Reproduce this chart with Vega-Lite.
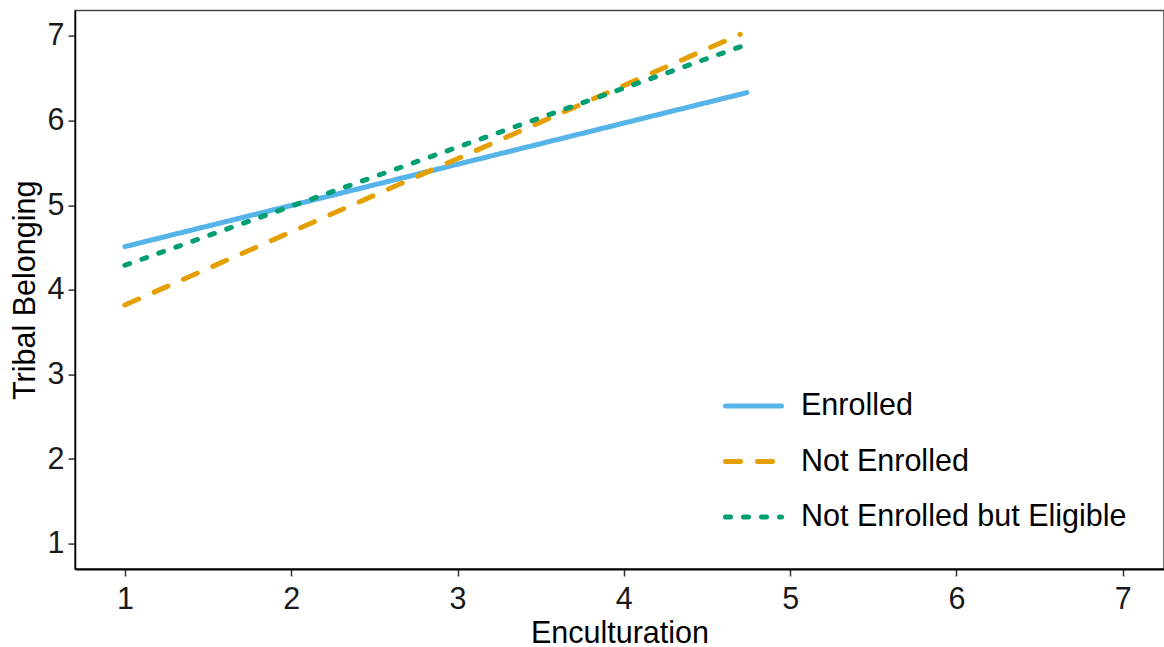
{
  "$schema": "https://vega.github.io/schema/vega-lite/v6.json",
  "width": 1089,
  "height": 558.4,
  "autosize": {"type": "none"},
  "padding": {"left": 75, "top": 10.6, "right": 0, "bottom": 78},
  "background": "white",
  "config": {
    "font": "Liberation Sans",
    "view": {"stroke": "#444444", "strokeWidth": 1.5},
    "axis": {
      "grid": false,
      "domainColor": "black",
      "domainWidth": 2,
      "tickColor": "#333333",
      "tickWidth": 1.5,
      "tickSize": 7,
      "labelFontSize": 30.5,
      "labelColor": "#1a1a1a",
      "labelFont": "Liberation Sans",
      "titleFont": "Liberation Sans",
      "titleFontSize": 30.5,
      "titleFontWeight": "normal",
      "titleColor": "black"
    },
    "legend": {
      "labelFont": "Liberation Sans",
      "labelFontSize": 30.5,
      "labelColor": "black",
      "labelLimit": 500
    }
  },
  "data": {
    "values": [
      {"group": "Enrolled", "enc": 1, "belong": 4.51},
      {"group": "Enrolled", "enc": 4.74, "belong": 6.33},
      {"group": "Not Enrolled", "enc": 1, "belong": 3.82},
      {"group": "Not Enrolled", "enc": 4.7, "belong": 7.02},
      {"group": "Not Enrolled but Eligible", "enc": 1, "belong": 4.29},
      {"group": "Not Enrolled but Eligible", "enc": 4.74, "belong": 6.9}
    ]
  },
  "mark": {"type": "line", "strokeWidth": 5, "strokeCap": "round", "clip": true},
  "encoding": {
    "x": {
      "field": "enc",
      "type": "quantitative",
      "title": "Enculturation",
      "scale": {"domain": [0.7, 7.248], "nice": false, "zero": false},
      "axis": {"values": [1, 2, 3, 4, 5, 6, 7], "labelPadding": 8, "titlePadding": 4, "format": "d"}
    },
    "y": {
      "field": "belong",
      "type": "quantitative",
      "title": "Tribal Belonging",
      "scale": {"domain": [0.7, 7.3], "nice": false, "zero": false},
      "axis": {"values": [1, 2, 3, 4, 5, 6, 7], "labelPadding": 4, "titlePadding": 7, "format": "d", "domainWidth": 1.5}
    },
    "color": {
      "field": "group",
      "type": "nominal",
      "scale": {
        "domain": ["Enrolled", "Not Enrolled", "Not Enrolled but Eligible"],
        "range": ["#56B4E9", "#E69F00", "#009E73"]
      },
      "legend": {
        "title": null,
        "orient": "none",
        "legendX": 648,
        "legendY": 365,
        "symbolType": "stroke",
        "symbolSize": 3136,
        "symbolStrokeWidth": 5,
        "rowPadding": 9.5,
        "labelOffset": 17,
        "padding": 0,
        "encode": {"symbols": {"update": {"strokeCap": {"value": "round"}}}}
      }
    },
    "strokeDash": {
      "field": "group",
      "type": "nominal",
      "scale": {
        "domain": ["Enrolled", "Not Enrolled", "Not Enrolled but Eligible"],
        "range": [[1, 0], [15, 17], [5, 13]]
      },
      "legend": {
        "title": null,
        "orient": "none",
        "legendX": 648,
        "legendY": 365,
        "symbolType": "stroke",
        "symbolSize": 3136,
        "symbolStrokeWidth": 5,
        "rowPadding": 9.5,
        "labelOffset": 17,
        "padding": 0,
        "encode": {"symbols": {"update": {"strokeCap": {"value": "round"}}}}
      }
    }
  }
}
